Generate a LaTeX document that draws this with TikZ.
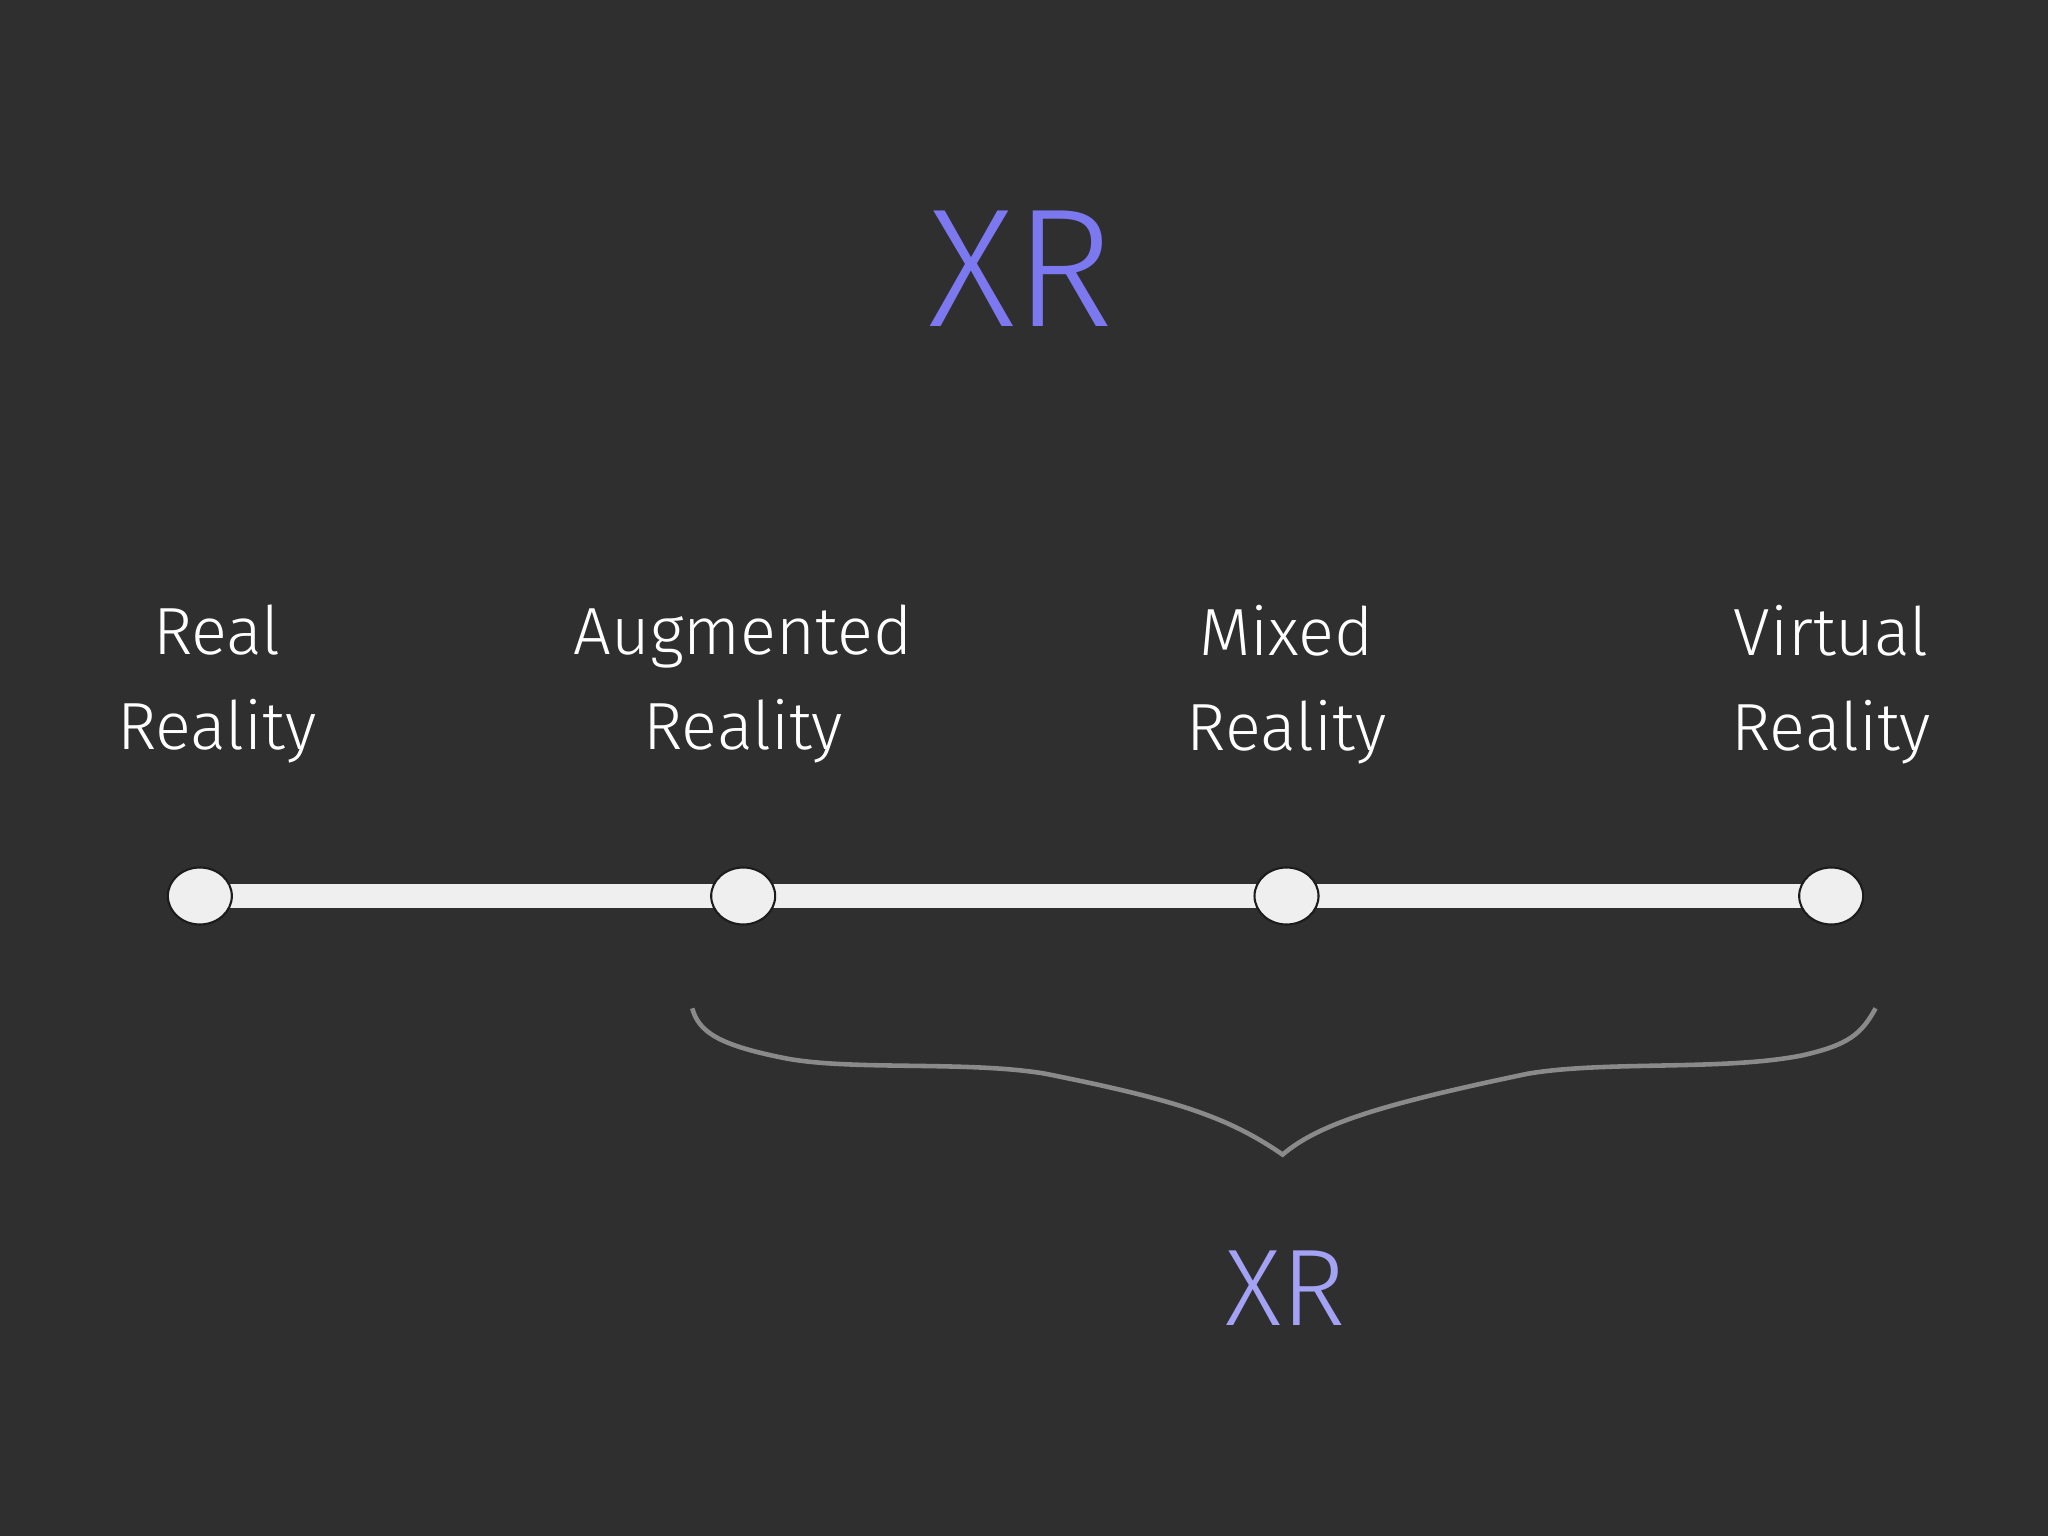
\documentclass[tikz,border=0pt]{standalone}
\usepackage{fontspec}
\setmainfont{Fira Sans Light}
\definecolor{bg}{HTML}{2F2F30}
\definecolor{xrtop}{HTML}{7B78F0}
\definecolor{xrbot}{HTML}{A4A2F5}
\definecolor{dot}{HTML}{F0EFF0}
\definecolor{brace}{HTML}{8A8A8A}
\begin{document}
\begin{tikzpicture}[x=0.01306cm,y=-0.01306cm,
  lbl/.style={text=white,font=\fontsize{19}{27}\selectfont,align=center},
  dotn/.style={ellipse,draw=bg!60!black,line width=0.6pt,fill=dot,minimum width=0.64cm,minimum height=0.57cm,inner sep=0pt},
  ]
\usetikzlibrary{shapes.geometric}
\fill[bg] (0,0) rectangle (1568,1176);
\node[text=xrtop,font=\fontsize{48}{48}\selectfont] (t) at (782,206) {XR};
\node[lbl] (l1) at (166,524) {Real\\Reality};
\node[lbl] (l2) at (569,524) {Augmented\\Reality};
\node[lbl] (l3) at (985,524) {Mixed\\Reality};
\node[lbl] (l4) at (1402,524) {Virtual\\Reality};
\coordinate (a) at (153,686);
\coordinate (b) at (1402,686);
\draw[line width=7pt,draw=dot] (a) -- (b);
\node[dotn] (d1) at (153,686) {};
\node[dotn] (d2) at (569,686) {};
\node[dotn] (d3) at (985,686) {};
\node[dotn] (d4) at (1402,686) {};
\coordinate (bs) at (530,772);
\coordinate (bm) at (982,884);
\coordinate (be) at (1436,772);
\draw[brace,line width=1.3pt] (bs) .. controls (535,790) and (550,800) .. (600,810)
  .. controls (650,820) and (740,812) .. (800,822)
  .. controls (900,842) and (940,855) .. (bm)
  .. controls (1010,860) and (1060,845) .. (1170,822)
  .. controls (1230,812) and (1320,820) .. (1380,808)
  .. controls (1415,800) and (1425,792) .. (be);
\node[text=xrbot,font=\fontsize{31}{31}\selectfont] (xb) at (984,986) {XR};
\end{tikzpicture}
\end{document}
